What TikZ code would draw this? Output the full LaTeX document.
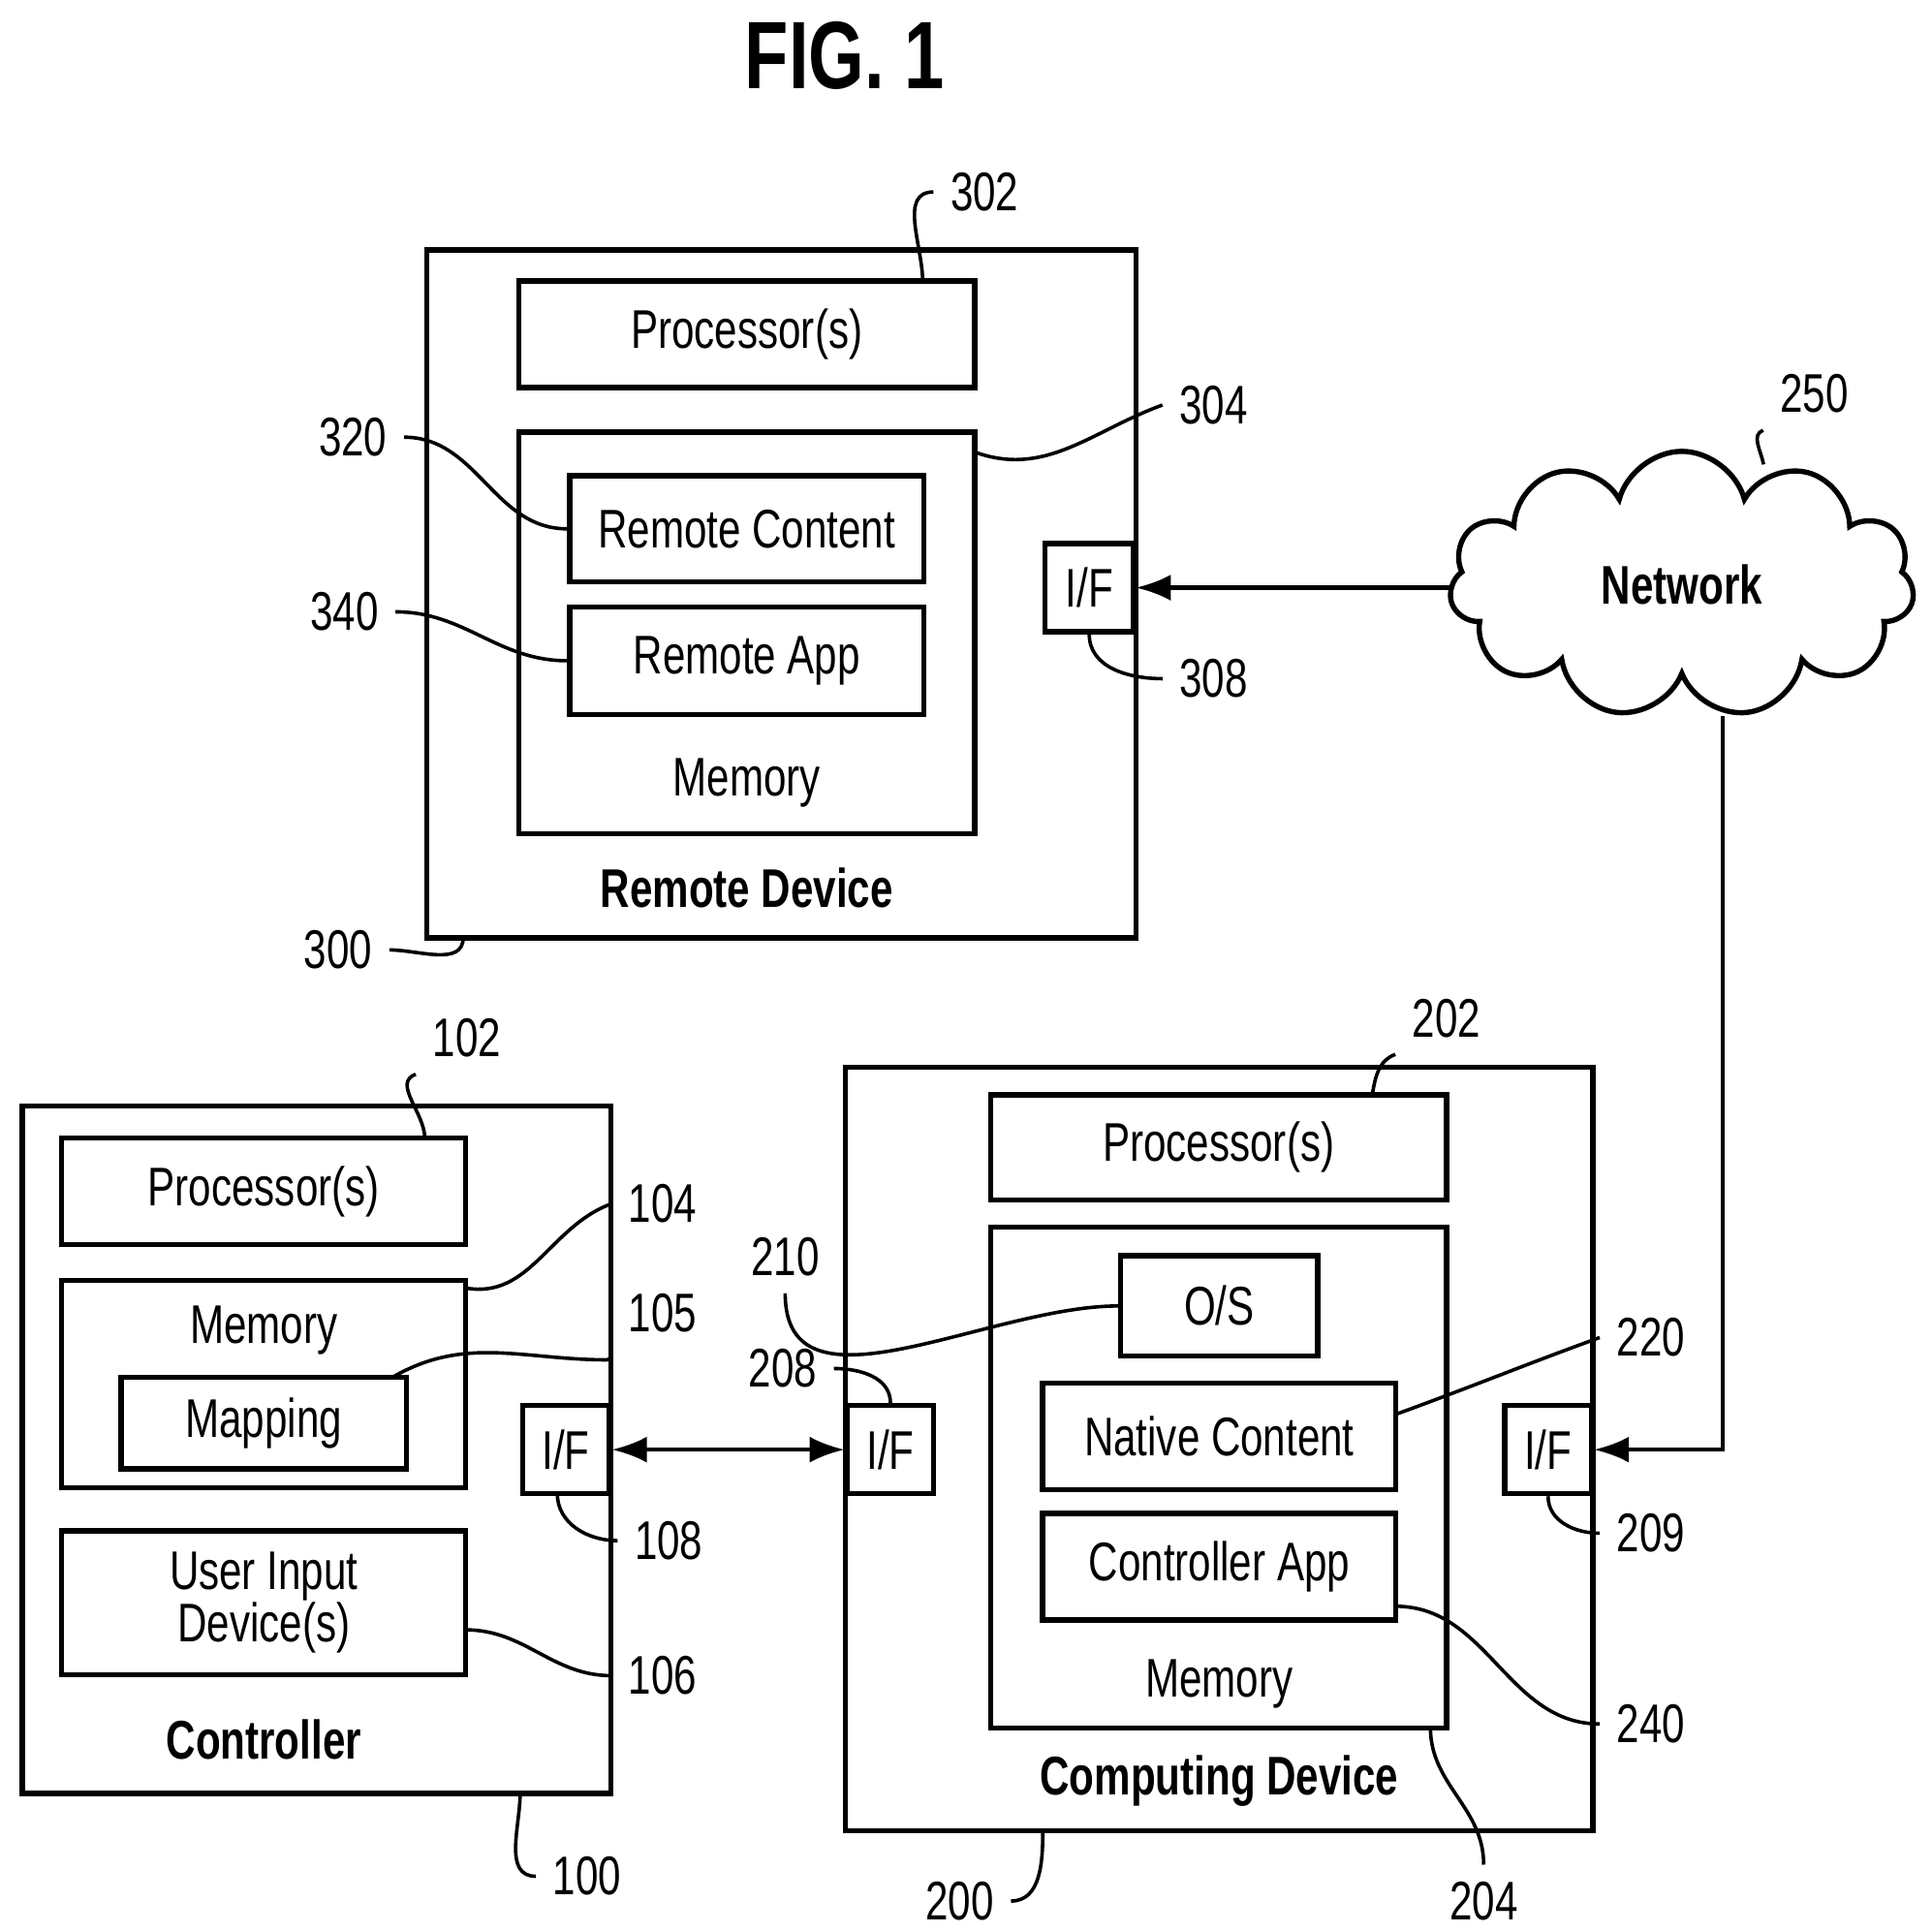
\documentclass[tikz,border=0pt]{standalone}
\usepackage{fontspec}
\setmainfont{Liberation Sans}[FakeStretch=0.75]
\usetikzlibrary{arrows.meta}
\usetikzlibrary{shapes.symbols}
\begin{document}
\begin{tikzpicture}[x=0.01cm, y=-0.01cm, line width=1.2pt,
		font=\fontsize{12.5}{14}\selectfont,
		box/.style={draw, rectangle, inner sep=0pt, align=center},
		lead/.style={line width=0.8pt},
		link/.style={line width=1pt, -{Latex[length=8pt, width=6pt]}}]
		\useasboundingbox (0,0) rectangle (1560,1560);
		\node (title) at (682,45) {\fontsize{22}{24}\selectfont\bfseries FIG. 1};

		% Remote device
		\node[box, minimum width=5.72cm, minimum height=5.55cm] (rdev) at (631,479.5) {};
		\node[box, minimum width=3.68cm, minimum height=0.86cm] (rproc) at (603,270) {Processor(s)};
		\node[box, minimum width=3.68cm, minimum height=3.24cm] (rmem) at (603,511) {};
		\node[box, minimum width=2.86cm, minimum height=0.86cm] (rcont) at (603,427) {Remote Content};
		\node[box, minimum width=2.86cm, minimum height=0.87cm] (rapp) at (603,533.5) {Remote App};
		\node (rmemt) at (603,632) {Memory};
		\node (rdevt) at (603,717) {\bfseries Remote Device};
		\node[box, minimum width=0.71cm, minimum height=0.71cm] (rif) at (879.5,474.5) {I/F};

		% Network
		\node[cloud, draw, cloud puffs=11, aspect=1.8, minimum width=3.75cm, minimum height=2.15cm,
			inner sep=0pt] (net) at (1358,472) {\bfseries Network};

		% Controller
		\node[box, minimum width=4.75cm, minimum height=5.55cm] (ctrl) at (255.5,1170.5) {};
		\node[box, minimum width=3.26cm, minimum height=0.86cm] (cproc) at (213,962) {Processor(s)};
		\node[box, minimum width=3.26cm, minimum height=1.67cm] (cmem) at (213,1117.5) {};
		\node (cmemt) at (213,1074) {Memory};
		\node[box, minimum width=2.30cm, minimum height=0.74cm] (map) at (213,1149) {Mapping};
		\node[box, minimum width=3.26cm, minimum height=1.16cm] (uid) at (213,1294) {User Input\\[-2pt]Device(s)};
		\node (ctrlt) at (213,1405) {\bfseries Controller};
		\node[box, minimum width=0.70cm, minimum height=0.71cm] (cif) at (457,1170.5) {I/F};

		% Computing device
		\node[box, minimum width=6.03cm, minimum height=6.16cm] (comp) at (984.5,1170) {};
		\node[box, minimum width=3.68cm, minimum height=0.85cm] (dproc) at (984,926.5) {Processor(s)};
		\node[box, minimum width=3.68cm, minimum height=4.04cm] (dmem) at (984,1193) {};
		\node[box, minimum width=1.59cm, minimum height=0.81cm] (os) at (984.5,1054.5) {O/S};
		\node[box, minimum width=2.85cm, minimum height=0.86cm] (nat) at (984.5,1160) {Native Content};
		\node[box, minimum width=2.85cm, minimum height=0.86cm] (capp) at (984.5,1265) {Controller App};
		\node (dmemt) at (984.5,1360) {Memory};
		\node (compt) at (984.5,1438) {\bfseries Computing Device};
		\node[box, minimum width=0.70cm, minimum height=0.71cm] (dif1) at (719,1170.5) {I/F};
		\node[box, minimum width=0.70cm, minimum height=0.71cm] (dif2) at (1250,1170.5) {I/F};

		% Connections
		\draw[link] (net.west |- rif.east) -- (rif.east);
		\draw[link, {Latex[length=8pt, width=6pt]}-{Latex[length=8pt, width=6pt]}] (cif.east) -- (dif1.west);
		\coordinate (top) at (1391,578);
		\coordinate (bend) at (1391,1170.5);
		\draw[link] (top) -- (bend) -- (dif2.east);

		% Reference labels
		\node (l302) at (795,155) {302};
		\node (l304) at (980,327) {304};
		\node (l320) at (285,353) {320};
		\node (l340) at (278,494) {340};
		\node (l308) at (980,548) {308};
		\node (l300) at (273,767) {300};
		\node (l250) at (1465,318) {250};
		\node (l102) at (377,838) {102};
		\node (l104) at (535,972) {104};
		\node (l105) at (535,1060) {105};
		\node (l108) at (540,1244) {108};
		\node (l106) at (535,1353) {106};
		\node (l100) at (474,1515) {100};
		\node (l202) at (1168,822) {202};
		\node (l210) at (634,1015) {210};
		\node (l208) at (632,1105) {208};
		\node (l220) at (1333,1080) {220};
		\node (l209) at (1333,1238) {209};
		\node (l240) at (1333,1392) {240};
		\node (l204) at (1198,1535) {204};
		\node (l200) at (775,1535) {200};

		% Leader lines
		\draw[lead] (745,227) to[out=90, in=180] (l302.west);
		\draw[lead] (787,365) to[out=-20, in=200] (l304.west);
		\draw[lead] (l320.east) to[out=0, in=180] (rcont.west);
		\draw[lead] (l340.east) to[out=0, in=180] (rapp.west);
		\draw[lead] (rif.south) to[out=-90, in=180] (l308.west);
		\draw[lead] (l300.east) to[out=0, in=-90] (374,757);
		\draw[lead] (1424,375) to[out=100, in=200] (l250.south west);
		\draw[lead] (343,919) to[out=90, in=200] (l102.south west);
		\draw[lead] (376,1040) to[out=-10, in=200] (l104.west);
		\draw[lead] (317,1112) to[out=30, in=180] (490,1098) to[out=0, in=-90] (l105.south west);
		\draw[lead] (450,1206) to[out=-90, in=180] (l108.west);
		\draw[lead] (376,1316) to[out=0, in=180] (l106.west);
		\draw[lead] (420,1448) to[out=-90, in=180] (l100.west);
		\draw[lead] (1108,884) to[out=80, in=200] (l202.south west);
		\draw[lead] (l210.south) to[out=-90, in=180] (os.west);
		\draw[lead] (l208.east) to[out=0, in=90] (dif1.north);
		\draw[lead] (1127,1142) to[out=20, in=200] (l220.west);
		\draw[lead] (dif2.south) to[out=-90, in=180] (l209.west);
		\draw[lead] (1127,1297) to[out=0, in=180] (l240.west);
		\draw[lead] (1155,1395) to[out=-90, in=90] (l204.north);
		\draw[lead] (l200.east) to[out=0, in=-90] (842,1478);
\end{tikzpicture}
\end{document}
